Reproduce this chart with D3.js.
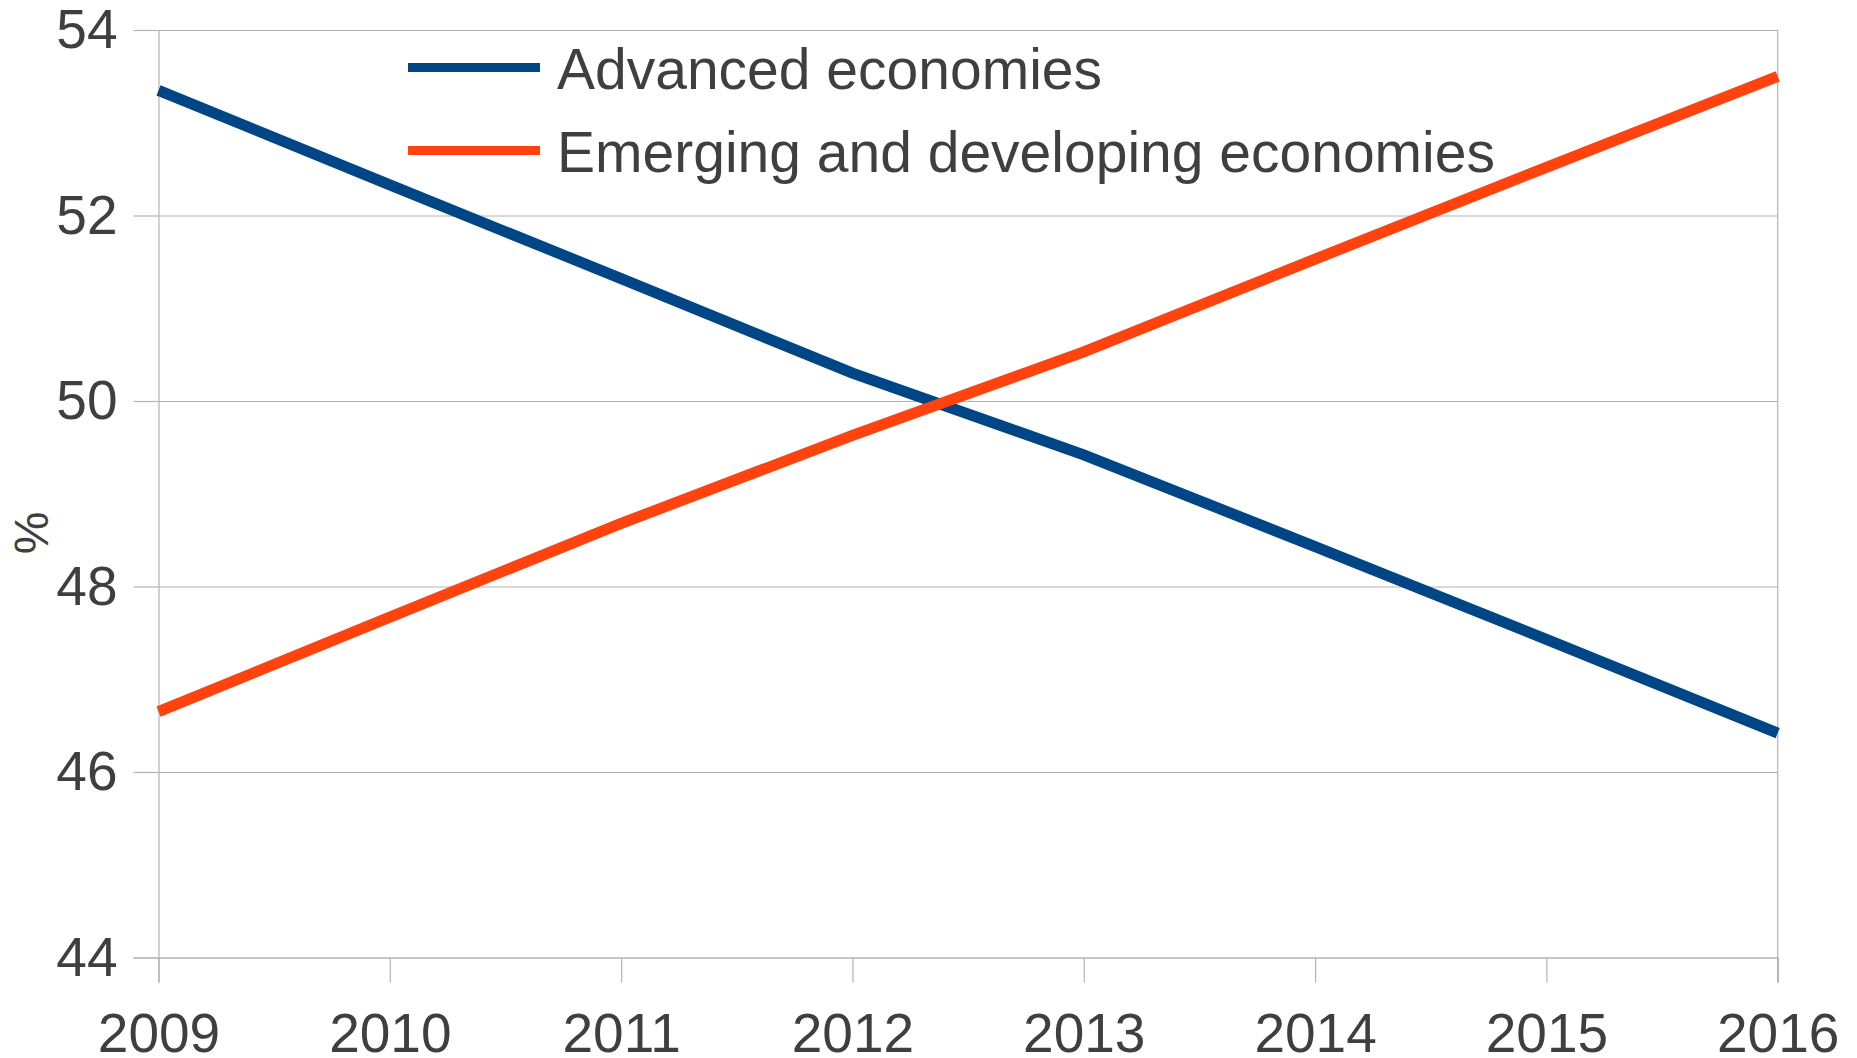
<!DOCTYPE html>
<html>
<head>
<meta charset="utf-8">
<script src="https://cdn.jsdelivr.net/npm/d3@7"></script>
<style>
  body { margin: 0; background: #fff; }
  text { font-family: "Liberation Sans", Arial, sans-serif; fill: #3f3f3f; }
</style>
</head>
<body>
<svg id="chart" width="1857" height="1058"></svg>
<script>
var years = [2009, 2010, 2011, 2012, 2013, 2014, 2015, 2016];
var advanced = [53.35, 52.33, 51.32, 50.3, 49.42, 48.43, 47.43, 46.42];
var emerging = [46.65, 47.67, 48.68, 49.63, 50.53, 51.53, 52.52, 53.5];
var yTicks = [44, 46, 48, 50, 52, 54];
var seriesNames = ['Advanced economies', 'Emerging and developing economies'];
var seriesColors = ['#004586', '#ff420e'];

var svg = d3.select('#chart');
var plotLeft = 158.5, plotRight = 1777.7, plotTop = 30, plotBottom = 957.5;

var x = d3.scaleLinear().domain([2009, 2016]).range([plotLeft, plotRight]);
var y = d3.scaleLinear().domain([44, 54]).range([plotBottom, plotTop]);

// horizontal grid
svg.append('g')
  .attr('transform', 'translate(' + plotLeft + ',0)')
  .call(d3.axisLeft(y).tickValues(yTicks).tickSize(-(plotRight - plotLeft)).tickFormat(''))
  .call(function(g){
    g.select('.domain').remove();
    g.selectAll('line').attr('stroke', '#b3b3b3').attr('stroke-width', 1.2);
  });

// y axis with outer ticks
svg.append('g')
  .attr('transform', 'translate(' + plotLeft + ',0)')
  .call(d3.axisLeft(y).tickValues(yTicks).tickSize(25).tickPadding(16).tickFormat(d3.format('d')))
  .call(function(g){
    g.select('.domain').attr('stroke', '#b3b3b3').attr('stroke-width', 1.2);
    g.selectAll('line').attr('stroke', '#b3b3b3').attr('stroke-width', 1.2);
    g.selectAll('text').attr('font-size', 55).attr('fill', '#3f3f3f')
      .attr('font-family', '"Liberation Sans", Arial, sans-serif');
  });

// x axis
svg.append('g')
  .attr('transform', 'translate(0,' + plotBottom + ')')
  .call(d3.axisBottom(x).tickValues(years).tickSize(25).tickPadding(30).tickFormat(d3.format('d')))
  .call(function(g){
    g.select('.domain').attr('stroke', '#b3b3b3').attr('stroke-width', 1.2);
    g.selectAll('line').attr('stroke', '#b3b3b3').attr('stroke-width', 1.2);
    g.selectAll('text').attr('font-size', 55).attr('fill', '#3f3f3f')
      .attr('font-family', '"Liberation Sans", Arial, sans-serif');
  });

// right border
svg.append('line')
  .attr('x1', plotRight).attr('x2', plotRight).attr('y1', plotTop).attr('y2', plotBottom + 25)
  .attr('stroke', '#b3b3b3').attr('stroke-width', 1.2);

// y label
svg.append('text')
  .attr('transform', 'translate(48,533) rotate(-90)')
  .attr('text-anchor', 'middle')
  .attr('font-size', 48)
  .text('%');

var line = d3.line()
  .x(function(d, i){ return x(years[i]); })
  .y(function(d){ return y(d); });

[advanced, emerging].forEach(function(s, i){
  svg.append('path')
    .datum(s)
    .attr('d', line)
    .attr('fill', 'none')
    .attr('stroke', seriesColors[i])
    .attr('stroke-width', 11);
});

// legend
var legend = svg.append('g');
seriesNames.forEach(function(name, i){
  var ly = 67.5 + i * 83;
  legend.append('line')
    .attr('x1', 408).attr('x2', 540).attr('y1', ly).attr('y2', ly)
    .attr('stroke', seriesColors[i]).attr('stroke-width', 9);
  legend.append('text')
    .attr('x', 557).attr('y', ly + 21)
    .attr('font-size', 57)
    .text(name);
});
</script>
</body>
</html>
